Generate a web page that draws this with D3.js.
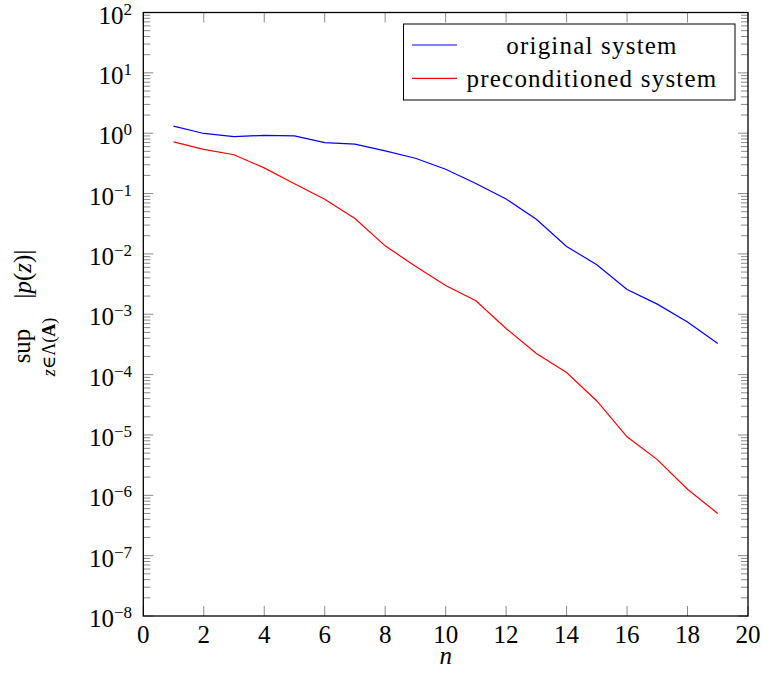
<!DOCTYPE html>
<html>
<head>
<meta charset="utf-8">
<script src="https://cdn.jsdelivr.net/npm/d3@7"></script>
<style>
  html, body { margin: 0; padding: 0; background: #fff; }
  svg { display: block; }
  text { font-family: "Liberation Serif", "DejaVu Serif", serif; fill: #000; }
</style>
</head>
<body>
<svg id="chart" width="763" height="676"></svg>
<script>
// Iteration index n
const iterations = [1, 2, 3, 4, 5, 6, 7, 8, 9, 10, 11, 12, 13, 14, 15, 16, 17, 18, 19];
// sup |p(z)| over the spectrum, original system
const originalSystem = [1.31, 0.99, 0.88, 0.92, 0.90, 0.70, 0.66, 0.51, 0.385, 0.253,
  0.147, 0.081, 0.0376, 0.0133, 0.0066, 0.00257, 0.00147, 0.000747, 0.000327];
// sup |p(z)| over the spectrum, preconditioned system
const preconditionedSystem = [0.72, 0.54, 0.44, 0.266, 0.145, 0.0806, 0.0386, 0.0136, 0.00625, 0.00299,
  0.00167, 0.00058, 0.000224, 0.000108, 0.0000366, 0.0000093, 0.0000039, 0.00000126, 0.0000005];
// Axis ticks
const xTicks = [0, 2, 4, 6, 8, 10, 12, 14, 16, 18, 20];
const yExponents = [-8, -7, -6, -5, -4, -3, -2, -1, 0, 1, 2];
const seriesNames = ["original system", "preconditioned system"];
const seriesColors = ["#0000ff", "#ff0000"];

const svg = d3.select("#chart");
const plotLeft = 143.3, plotRight = 748, plotTop = 12.5, plotBottom = 616;

const x = d3.scaleLinear().domain([0, 20]).range([plotLeft, plotRight]);
const y = d3.scaleLog().domain([1e-8, 1e2]).range([plotBottom, plotTop]);

const tickColor = "#8a8a8a";
const majorLen = 10, minorLen = 7;

// Minor + major ticks on left and right (pointing inward)
const minorVals = [];
for (let e = -8; e < 2; e++) for (let m = 2; m <= 9; m++) minorVals.push(m * Math.pow(10, e));
const majorVals = yExponents.map(e => Math.pow(10, e));

const tickG = svg.append("g").attr("stroke", tickColor).attr("stroke-width", 1);
[[plotLeft, 1], [plotRight, -1]].forEach(([x0, dir]) => {
  tickG.selectAll(null).data(minorVals).enter().append("line")
    .attr("x1", x0).attr("x2", x0 + dir * minorLen)
    .attr("y1", d => y(d)).attr("y2", d => y(d));
  tickG.selectAll(null).data(majorVals).enter().append("line")
    .attr("x1", x0).attr("x2", x0 + dir * majorLen)
    .attr("y1", d => y(d)).attr("y2", d => y(d));
});
// Major x ticks on bottom and top
[[plotBottom, -1], [plotTop, 1]].forEach(([y0, dir]) => {
  tickG.selectAll(null).data(xTicks).enter().append("line")
    .attr("x1", d => x(d)).attr("x2", d => x(d))
    .attr("y1", y0).attr("y2", y0 + dir * majorLen);
});

// Series lines
const line = d3.line().x((d, i) => x(iterations[i])).y(d => y(d));
[originalSystem, preconditionedSystem].forEach((s, k) => {
  svg.append("path").datum(s).attr("d", line)
    .attr("fill", "none").attr("stroke", seriesColors[k]).attr("stroke-width", 1.2);
});

// Frame
svg.append("rect").attr("x", plotLeft).attr("y", plotTop)
  .attr("width", plotRight - plotLeft).attr("height", plotBottom - plotTop)
  .attr("fill", "none").attr("stroke", "#000").attr("stroke-width", 1.3);

// X tick labels
svg.append("g").selectAll("text").data(xTicks).enter().append("text")
  .attr("x", d => x(d)).attr("y", 643)
  .attr("text-anchor", "middle").attr("font-size", 25)
  .text(d => d);

// Y tick labels: 10^e
const yl = svg.append("g").selectAll("text").data(yExponents).enter().append("text")
  .attr("x", 132).attr("y", d => y(Math.pow(10, d)) + 11)
  .attr("text-anchor", "end").attr("font-size", 25);
yl.append("tspan").text("10");
yl.append("tspan").attr("dy", -9).attr("font-size", 17)
  .text(d => d < 0 ? "\u2212" + (-d) : String(d));

// X axis label
svg.append("text").attr("x", x(10)).attr("y", 664)
  .attr("text-anchor", "middle").attr("font-size", 25)
  .attr("font-style", "italic").text("n");

// Y axis label: sup over z in Lambda(A) of |p(z)|
const supG = svg.append("g").attr("transform", "translate(30,346) rotate(-90)");
supG.append("text").attr("text-anchor", "middle").attr("font-size", 25).text("sup");
const subG = svg.append("g").attr("transform", "translate(55,347) rotate(-90)");
const sub = subG.append("text").attr("text-anchor", "middle").attr("font-size", 18);
sub.append("tspan").attr("font-style", "italic").text("z");
sub.append("tspan").text("\u2208\u039B(");
sub.append("tspan").attr("font-weight", "bold").text("A");
sub.append("tspan").text(")");
const pG = svg.append("g").attr("transform", "translate(31,274) rotate(-90)");
const pt = pG.append("text").attr("text-anchor", "middle").attr("font-size", 25);
pt.append("tspan").text("|");
pt.append("tspan").attr("font-style", "italic").text("p");
pt.append("tspan").text("(");
pt.append("tspan").attr("font-style", "italic").text("z");
pt.append("tspan").text(")|");

// Legend
const lg = svg.append("g");
lg.append("rect").attr("x", 403.5).attr("y", 24).attr("width", 331.5).attr("height", 76)
  .attr("fill", "#fff").attr("stroke", "#000").attr("stroke-width", 1);
const legRows = [45, 78.3];
seriesNames.forEach((name, k) => {
  lg.append("line").attr("x1", 412).attr("x2", 457)
    .attr("y1", legRows[k]).attr("y2", legRows[k])
    .attr("stroke", seriesColors[k]).attr("stroke-width", 1.2);
  lg.append("text").attr("x", 592).attr("y", legRows[k] + 8.5)
    .attr("text-anchor", "middle").attr("font-size", 25)
    .attr("letter-spacing", 1.2).text(name);
});
</script>
</body>
</html>
